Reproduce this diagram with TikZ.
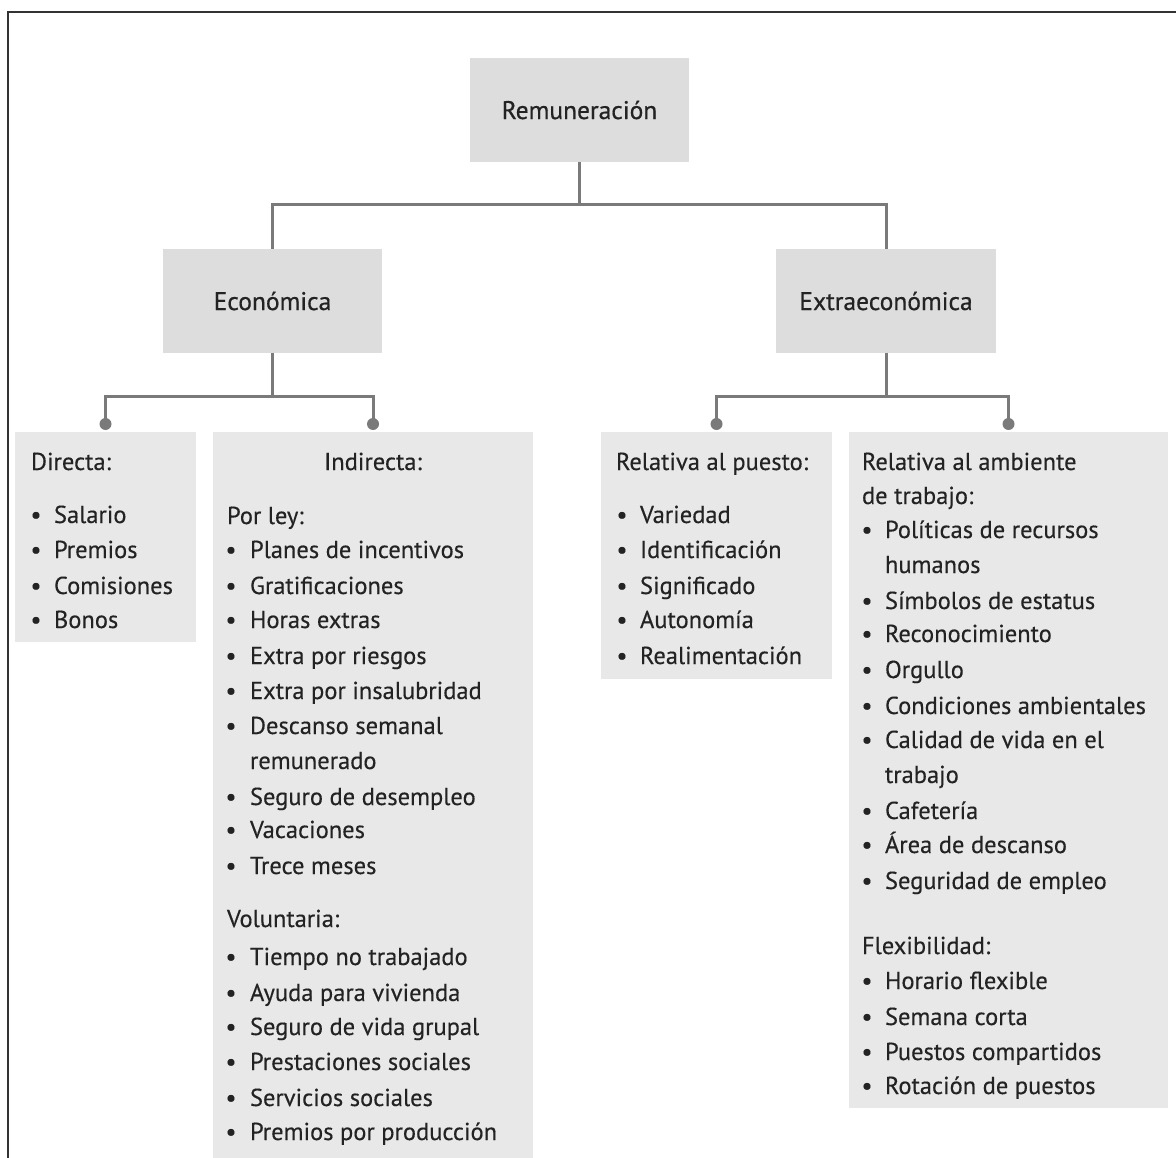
\documentclass[tikz,border=0pt]{standalone}
\usepackage{fontspec}
\setmainfont{PT Sans}
\newfontfamily\headfont[FakeBold=0.6]{PT Sans}
\newfontfamily\bodyfont[FakeBold=0.3]{PT Sans}
\definecolor{headgray}{HTML}{DDDDDD}
\definecolor{listgray}{HTML}{E8E8E8}
\definecolor{linkgray}{HTML}{7A7A7A}
\definecolor{ink}{HTML}{232323}
\definecolor{frame}{HTML}{333333}
\begin{document}
\begin{tikzpicture}[x=1pt,y=-1pt,
  every node/.style={inner sep=0pt, outer sep=0pt},
  headbox/.style={fill=headgray, anchor=north west, text=ink,
                  font=\headfont\fontsize{25.5}{30}\selectfont},
  listbox/.style={fill=listgray, anchor=north west},
  txt/.style={anchor=base west, text=ink, font=\bodyfont\fontsize{24.5}{28}\selectfont},
  dot/.style={anchor=base, text=ink, font=\bodyfont\fontsize{24.5}{28}\selectfont},
  link/.style={draw=linkgray, line width=3pt},
  knob/.style={fill=linkgray}]

\useasboundingbox (0,0) rectangle (1176,1158);
% outer frame
\draw[frame, line width=2pt] (8,1160) -- (8,12) -- (1178,12);

% header boxes
\node[headbox, minimum width=219pt, minimum height=104pt] (rem) at (470,58) {Remuneración};
\node[headbox, minimum width=219pt, minimum height=104pt] (eco) at (163,249) {Económica};
\node[headbox, minimum width=220pt, minimum height=104pt] (ext) at (776,249) {Extraeconómica};

% list boxes
\node[listbox, minimum width=181pt, minimum height=210pt] (dir) at (15,432) {};
\node[listbox, minimum width=320pt, minimum height=726pt] (ind) at (213,432) {};
\node[listbox, minimum width=231pt, minimum height=247pt] (pue) at (601,432) {};
\node[listbox, minimum width=319pt, minimum height=676pt] (amb) at (849,432) {};

% connectors
\draw[link] (rem.south) -- (rem.south |- 0,205) coordinate (remj) -| (eco.north);
\draw[link] (remj) -| (ext.north);

\coordinate (kdir) at ([yshift=8pt]dir.north);
\coordinate (kind) at ([yshift=8pt]ind.north);
\coordinate (kpue) at ([yshift=8pt]pue.north);
\coordinate (kamb) at ([yshift=8pt]amb.north);

\draw[link] (eco.south) -- (eco.south |- 0,397) coordinate (ecoj) -| (kdir);
\draw[link] (ecoj) -| (kind);
\draw[link] (ext.south) -- (ext.south |- 0,397) coordinate (extj) -| (kpue);
\draw[link] (extj) -| (kamb);
\foreach \k in {kdir,kind,kpue,kamb} \fill[knob] (\k) circle (6pt);

% Directa
\node[txt] (dir-h) at (31,470) {Directa:};
\foreach \yy/\s in {523/Salario, 558/Premios, 594/Comisiones, 628/Bonos}{
  \node[dot] (dir-b\yy) at (36,\yy) {•};
  \node[txt] (dir-t\yy) at (54,\yy) {\s};
}

% Indirecta
\node[dot] (ind-h) at (373,470) {Indirecta:};
\node[txt] (ind-ley) at (227,524) {Por ley:};
\foreach \yy/\s in {558/Planes de incentivos, 594/Gratificaciones, 628/Horas extras,
  664/Extra por riesgos, 699/Extra por insalubridad, 734/Descanso semanal,
  805/Seguro de desempleo, 838/Vacaciones, 874/Trece meses,
  965/Tiempo no trabajado, 1001/Ayuda para vivienda, 1035/Seguro de vida grupal,
  1070/Prestaciones sociales, 1106/Servicios sociales, 1140/Premios por producción}{
  \node[dot] (ind-b\yy) at (231,\yy) {•};
  \node[txt] (ind-t\yy) at (250,\yy) {\s};
}
\node[txt] (ind-c769) at (250,769) {remunerado};
\node[txt] (ind-vol) at (227,927) {Voluntaria:};

% Relativa al puesto
\node[txt] (pue-h) at (616,470) {Relativa al puesto:};
\foreach \yy/\s in {523/Variedad, 558/Identificación, 594/Significado, 628/Autonomía,
  664/Realimentación}{
  \node[dot] (pue-b\yy) at (622,\yy) {•};
  \node[txt] (pue-t\yy) at (640,\yy) {\s};
}

% Relativa al ambiente de trabajo
\node[txt] (amb-h1) at (862,470) {Relativa al ambiente};
\node[txt] (amb-h2) at (862,504) {de trabajo:};
\foreach \yy/\s in {538/Políticas de recursos, 609/Símbolos de estatus,
  642/Reconocimiento, 678/Orgullo, 714/Condiciones ambientales,
  748/Calidad de vida en el, 819/Cafetería, 853/Área de descanso,
  889/Seguridad de empleo, 989/Horario flexible, 1025/Semana corta,
  1060/Puestos compartidos, 1094/Rotación de puestos}{
  \node[dot] (amb-b\yy) at (867,\yy) {•};
  \node[txt] (amb-t\yy) at (885,\yy) {\s};
}
\node[txt] (amb-c573) at (885,573) {humanos};
\node[txt] (amb-c783) at (885,783) {trabajo};
\node[txt] (amb-flex) at (862,954) {Flexibilidad:};
\end{tikzpicture}
\end{document}
